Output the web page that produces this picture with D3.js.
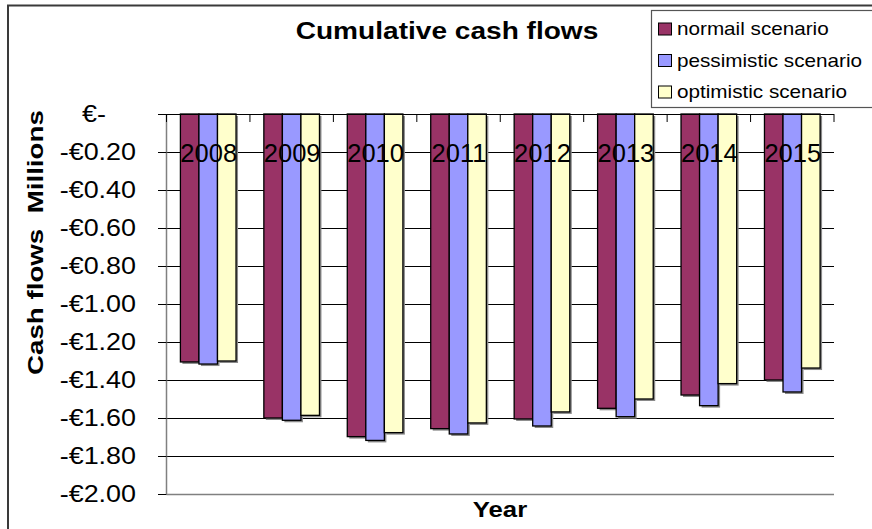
<!DOCTYPE html>
<html>
<head>
<meta charset="utf-8">
<script src="https://cdn.jsdelivr.net/npm/d3@7"></script>
<style>
  html, body { margin: 0; padding: 0; background: #fff; }
  svg { display: block; font-family: "Liberation Sans", Arial, sans-serif; }
</style>
</head>
<body>
<svg id="chart" width="872" height="529"></svg>
<script>
// Cumulative cash flows per year (EUR millions) for three scenarios
const years = ["2008", "2009", "2010", "2011", "2012", "2013", "2014", "2015"];
const normalScenario      = [-1.305, -1.600, -1.698, -1.656, -1.605, -1.549, -1.479, -1.400];
const pessimisticScenario = [-1.316, -1.612, -1.718, -1.684, -1.642, -1.593, -1.535, -1.463];
const optimisticScenario  = [-1.300, -1.586, -1.677, -1.626, -1.568, -1.500, -1.419, -1.337];
const seriesNames = ["normail scenario", "pessimistic scenario", "optimistic scenario"];
const seriesColors = ["#993366", "#9999FF", "#FFFFCC"];
const yTicks = [0, -0.2, -0.4, -0.6, -0.8, -1.0, -1.2, -1.4, -1.6, -1.8, -2.0];

const seriesValues = [normalScenario, pessimisticScenario, optimisticScenario];
const svg = d3.select("#chart");
const SX = 1.17; // horizontal text stretch

const plot = { left: 166.5, right: 834, top: 114, bottom: 494 };

const x0 = d3.scaleBand().domain(years).range([plot.left, plot.right]).padding(0);
const x1 = d3.scaleBand().domain(d3.range(3)).range([0, x0.bandwidth()])
  .paddingInner(0).paddingOuter(0.75);
const y = d3.scaleLinear().domain([-2, 0]).range([plot.bottom, plot.top]);

// outer frame (left and top edges)
svg.append("path")
  .attr("d", "M8,529 V5.5 H872")
  .attr("fill", "none").attr("stroke", "#3a3a3a").attr("stroke-width", 2);

// title
svg.append("g").attr("transform", `translate(447,39) scale(${SX},1)`)
  .append("text").attr("text-anchor", "middle")
  .attr("font-size", 24).attr("font-weight", "bold").attr("fill", "#000")
  .text("Cumulative cash flows");

// horizontal gridlines
svg.append("g").selectAll("line").data(yTicks.filter(d => d !== -2 && d !== 0)).join("line")
  .attr("x1", plot.left).attr("x2", plot.right)
  .attr("y1", d => Math.round(y(d)) + 0.5).attr("y2", d => Math.round(y(d)) + 0.5)
  .attr("stroke", "#000").attr("stroke-width", 1);

// bottom line
svg.append("line")
  .attr("x1", plot.left).attr("x2", plot.right)
  .attr("y1", Math.round(y(-2)) + 0.5).attr("y2", Math.round(y(-2)) + 0.5)
  .attr("stroke", "#808080").attr("stroke-width", 1.5);

// bars
const rows = years.map((yr, i) => ({ year: yr, values: seriesValues.map(s => s[i]) }));
const groups = svg.append("g").selectAll("g").data(rows).join("g")
  .attr("transform", d => `translate(${x0(d.year)},0)`);

groups.selectAll("rect.shadow").data(d => d.values.map((v, k) => ({ v, k }))).join("rect")
  .attr("class", "shadow")
  .attr("x", d => x1(d.k) + 2).attr("y", y(0) + 2)
  .attr("width", x1.bandwidth()).attr("height", d => y(d.v) - y(0))
  .attr("fill", "#8a8a8a");

groups.selectAll("rect.bar").data(d => d.values.map((v, k) => ({ v, k }))).join("rect")
  .attr("class", "bar")
  .attr("x", d => x1(d.k)).attr("y", y(0))
  .attr("width", x1.bandwidth()).attr("height", d => y(d.v) - y(0))
  .attr("fill", d => seriesColors[d.k])
  .attr("stroke", "#000").attr("stroke-width", 1.3);

// y axis line and ticks
svg.append("line")
  .attr("x1", plot.left).attr("x2", plot.left)
  .attr("y1", plot.top).attr("y2", plot.bottom)
  .attr("stroke", "#808080").attr("stroke-width", 1.5);
svg.append("g").selectAll("line").data(yTicks).join("line")
  .attr("x1", plot.left - 8.5).attr("x2", plot.left)
  .attr("y1", d => Math.round(y(d)) + 0.5).attr("y2", d => Math.round(y(d)) + 0.5)
  .attr("stroke", "#000").attr("stroke-width", 1);

// category axis along zero line
svg.append("line")
  .attr("x1", plot.left - 8.5).attr("x2", plot.right)
  .attr("y1", Math.round(y(0)) + 0.5).attr("y2", Math.round(y(0)) + 0.5)
  .attr("stroke", "#000").attr("stroke-width", 1.2);
const catTicks = years.map(d => x0(d)).concat([plot.right]);
svg.append("g").selectAll("line").data(catTicks).join("line")
  .attr("x1", d => d).attr("x2", d => d)
  .attr("y1", y(0)).attr("y2", y(0) + 8)
  .attr("stroke", "#000").attr("stroke-width", 1);

// y tick labels
const fmt = v => v === 0 ? "€-" : "-€" + Math.abs(v).toFixed(2);
svg.append("g").selectAll("g").data(yTicks).join("g")
  .attr("transform", d => `translate(${d === 0 ? 106 : 136},${y(d)}) scale(${SX},1)`)
  .append("text").attr("text-anchor", "end").attr("dy", "0.36em")
  .attr("font-size", 23).attr("fill", "#000")
  .text(fmt);

// category labels
svg.append("g").selectAll("text").data(years).join("text")
  .attr("x", d => x0(d) + x0.bandwidth() / 2 + 0.5).attr("y", y(0) + 48)
  .attr("text-anchor", "middle").attr("font-size", 25.5).attr("fill", "#000")
  .text(d => d);

// axis titles
svg.append("g").attr("transform", `translate(500,517) scale(${SX},1)`)
  .append("text").attr("text-anchor", "middle")
  .attr("font-size", 22).attr("font-weight", "bold").text("Year");

svg.append("text").attr("transform", "translate(43,375) rotate(-90) scale(1.26,1)")
  .attr("font-size", 22).attr("font-weight", "bold").attr("xml:space", "preserve")
  .text("Cash flows  Millions");

// legend
const legend = svg.append("g");
legend.append("rect").attr("x", 651.5).attr("y", 10.5).attr("width", 240).attr("height", 97)
  .attr("fill", "#fff").attr("stroke", "#555").attr("stroke-width", 1.2);
const items = legend.selectAll("g.item").data(seriesNames).join("g").attr("class", "item")
  .attr("transform", (d, i) => `translate(658,${29 + i * 31.5})`);
items.append("rect").attr("x", 0.5).attr("y", -6).attr("width", 13).attr("height", 12)
  .attr("fill", (d, i) => seriesColors[i]).attr("stroke", "#000").attr("stroke-width", 1);
items.append("g").attr("transform", `translate(19,0) scale(1.15,1)`)
  .append("text").attr("dy", "0.36em").attr("font-size", 18).attr("fill", "#000")
  .text(d => d);
</script>
</body>
</html>
